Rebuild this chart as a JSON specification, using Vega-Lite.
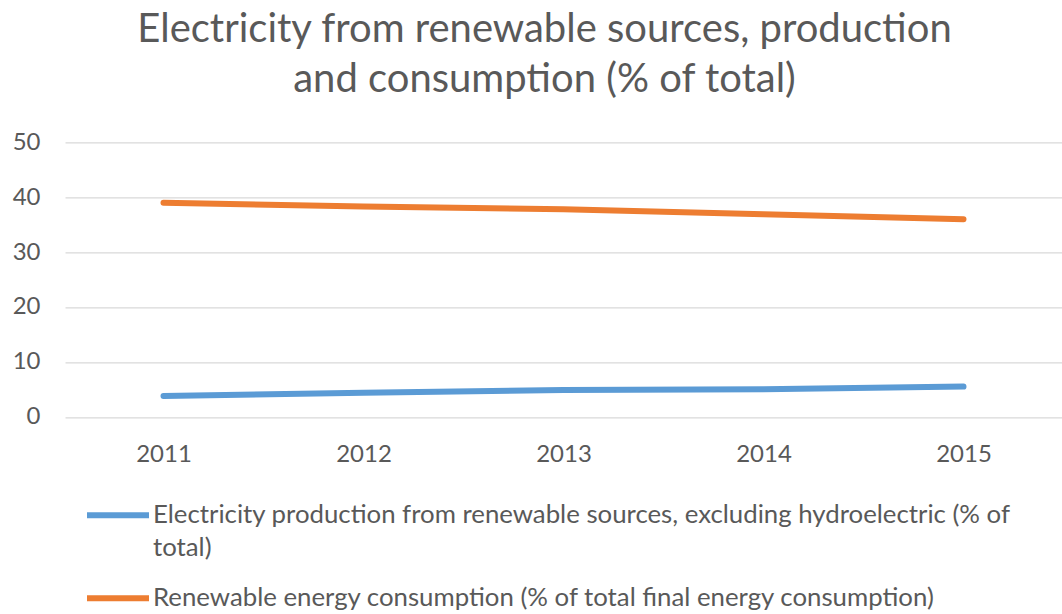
{
  "$schema": "https://vega.github.io/schema/vega-lite/v6.json",
  "autosize": {"type": "none"},
  "width": 997,
  "height": 274.5,
  "padding": {"left": 65, "top": 142.3, "right": 0, "bottom": 197},
  "background": "white",
  "title": {
    "text": ["Electricity from renewable sources, production", "and consumption (% of total)"],
    "anchor": "middle",
    "frame": "group",
    "dx": -19,
    "font": "Lato",
    "fontSize": 40,
    "fontWeight": "normal",
    "color": "#595959",
    "lineHeight": 50,
    "baseline": "alphabetic",
    "offset": -2
  },
  "data": {
    "values": [
      {"year": "2011", "series": "Electricity production from renewable sources, excluding hydroelectric (% of total)", "value": 3.8},
      {"year": "2012", "series": "Electricity production from renewable sources, excluding hydroelectric (% of total)", "value": 4.4},
      {"year": "2013", "series": "Electricity production from renewable sources, excluding hydroelectric (% of total)", "value": 4.9},
      {"year": "2014", "series": "Electricity production from renewable sources, excluding hydroelectric (% of total)", "value": 5.0},
      {"year": "2015", "series": "Electricity production from renewable sources, excluding hydroelectric (% of total)", "value": 5.5},
      {"year": "2011", "series": "Renewable energy consumption (% of total final energy consumption)", "value": 39.0},
      {"year": "2012", "series": "Renewable energy consumption (% of total final energy consumption)", "value": 38.3},
      {"year": "2013", "series": "Renewable energy consumption (% of total final energy consumption)", "value": 37.8},
      {"year": "2014", "series": "Renewable energy consumption (% of total final energy consumption)", "value": 36.9},
      {"year": "2015", "series": "Renewable energy consumption (% of total final energy consumption)", "value": 36.0}
    ]
  },
  "mark": {"type": "line", "strokeWidth": 6, "strokeCap": "round", "strokeJoin": "round"},
  "encoding": {
    "x": {
      "field": "year",
      "type": "ordinal",
      "scale": {"type": "point", "padding": 0.4925},
      "axis": {
        "title": null,
        "domain": false,
        "ticks": false,
        "grid": false,
        "labelAngle": 0,
        "labelFont": "Lato",
        "labelFontSize": 24,
        "labelColor": "#595959",
        "labelBaseline": "alphabetic",
        "labelPadding": 45
      }
    },
    "y": {
      "field": "value",
      "type": "quantitative",
      "scale": {"domain": [0, 50], "nice": false, "zero": true},
      "axis": {
        "title": null,
        "values": [0, 10, 20, 30, 40, 50],
        "domain": false,
        "ticks": false,
        "grid": true,
        "gridColor": "#D9D9D9",
        "gridWidth": 1.3,
        "labelFont": "Lato",
        "labelFontSize": 24,
        "labelColor": "#595959",
        "labelPadding": 25
      }
    },
    "color": {
      "field": "series",
      "type": "nominal",
      "scale": {
        "domain": [
          "Electricity production from renewable sources, excluding hydroelectric (% of total)",
          "Renewable energy consumption (% of total final energy consumption)"
        ],
        "range": ["#5B9BD5", "#ED7D31"]
      },
      "legend": {
        "title": null,
        "orient": "none",
        "direction": "vertical",
        "legendX": 19,
        "legendY": 339,
        "padding": 0,
        "symbolType": "stroke",
        "symbolSize": 3844,
        "symbolStrokeWidth": 6,
        "labelOffset": 1,
        "labelFont": "Lato",
        "labelFontSize": 25.8,
        "labelColor": "#595959",
        "labelLimit": 2000,
        "labelBaseline": "alphabetic",
        "labelExpr": "indexof(datum.label, 'hydroelectric') >= 0 ? ['Electricity production from renewable sources, excluding hydroelectric (% of', 'total)'] : datum.label",
        "rowPadding": 3,
        "encode": {
          "labels": {"update": {"lineHeight": {"value": 33}, "dy": {"value": 8}}}
        }
      }
    }
  },
  "config": {"view": {"stroke": null}}
}
